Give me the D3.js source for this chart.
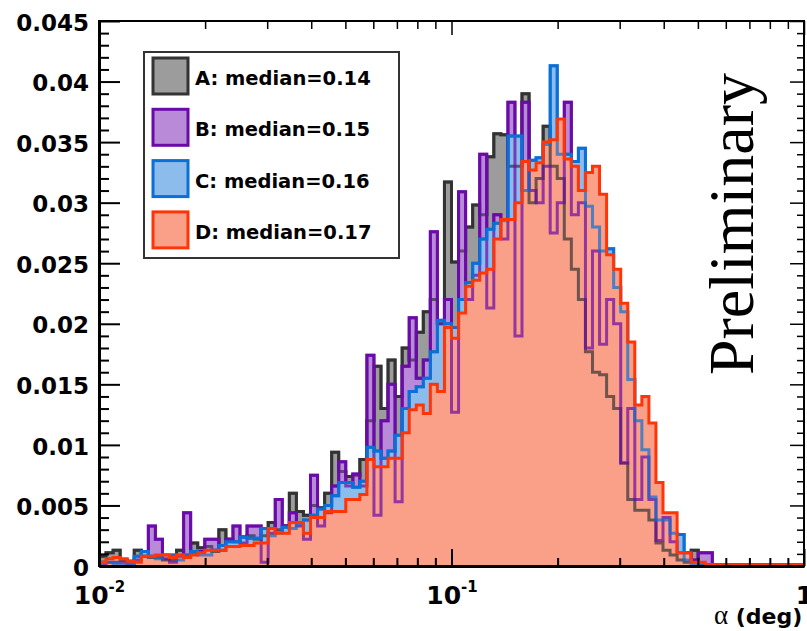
<!DOCTYPE html>
<html>
<head>
<meta charset="utf-8">
<script src="https://cdn.jsdelivr.net/npm/d3@7"></script>
<style>
  body { margin: 0; background: #fff; }
  svg { display: block; }
  .lab { font-family: "DejaVu Sans", sans-serif; font-weight: bold; fill: #000; }
</style>
</head>
<body>
<div id="chart"></div>
<script>
// histogram binning: 100 bins, uniform in log10(alpha) from 1e-2 to 1
const xMin = 0.01, xMax = 1, nBins = 100;

// bin contents (fraction per bin)
const seriesA = [
  0.0008,0.0011,0.0013,0.0005,0.0004,0.0013,0.0008,0.0007,0.0007,0.0005,
  0.0005,0.0013,0.0008,0.0019,0.0015,0.0016,0.0012,0.0030,0.0022,0.0020,
  0.0024,0.0025,0.0022,0.0025,0.0036,0.0030,0.0033,0.0060,0.0045,0.0042,
  0.0050,0.0048,0.0060,0.0094,0.0078,0.0074,0.0075,0.0088,0.0120,0.0165,
  0.0130,0.0170,0.0140,0.0180,0.0170,0.0193,0.0210,0.0220,0.0200,0.0317,
  0.0251,0.0260,0.0280,0.0298,0.0290,0.0338,0.0357,0.0356,0.0330,0.0330,
  0.0390,0.0300,0.0320,0.0363,0.0330,0.0320,0.0270,0.0245,0.0220,0.0177,
  0.0160,0.0158,0.0140,0.0130,0.0085,0.0055,0.0046,0.0046,0.0038,0.0019,
  0.0013,0.0009,0.0005,0.0003,0.0013,0.0001,0.0001,0.0001,0.0001,0.0001,
  0.0001,0.0001,0.0001,0.0001,0.0001,0.0001,0.0001,0.0001,0.0001,0.0001
];
const seriesB = [
  0.0001,0.0003,0.0003,0.0003,0.0001,0.0005,0.0008,0.0033,0.0022,0.0006,
  0.0003,0.0008,0.0044,0.0011,0.0012,0.0022,0.0022,0.0013,0.0022,0.0033,
  0.0019,0.0033,0.0033,0.0003,0.0027,0.0055,0.0033,0.0044,0.0033,0.0022,
  0.0075,0.0033,0.0044,0.0066,0.0086,0.0066,0.0076,0.0066,0.0174,0.0042,
  0.0120,0.0150,0.0053,0.0165,0.0205,0.0155,0.0170,0.0276,0.0200,0.0220,
  0.0127,0.0309,0.0220,0.0240,0.0340,0.0213,0.0290,0.0270,0.0383,0.0190,
  0.0383,0.0310,0.0300,0.0330,0.0275,0.0300,0.0383,0.0290,0.0300,0.0180,
  0.0260,0.0183,0.0220,0.0200,0.0085,0.0130,0.0055,0.0090,0.0055,0.0021,
  0.0040,0.0020,0.0011,0.0011,0.0005,0.0011,0.0011,0.0001,0.0001,0.0001,
  0.0001,0.0001,0.0001,0.0001,0.0001,0.0001,0.0001,0.0001,0.0001,0.0001
];
const seriesC = [
  0.0003,0.0003,0.0002,0.0001,0.0002,0.0008,0.0012,0.0008,0.0006,0.0009,
  0.0009,0.0005,0.0009,0.0012,0.0009,0.0009,0.0013,0.0017,0.0020,0.0020,
  0.0024,0.0023,0.0023,0.0031,0.0025,0.0027,0.0032,0.0031,0.0034,0.0038,
  0.0042,0.0047,0.0050,0.0058,0.0069,0.0069,0.0065,0.0070,0.0098,0.0095,
  0.0089,0.0095,0.0108,0.0130,0.0144,0.0148,0.0155,0.0177,0.0203,0.0200,
  0.0197,0.0220,0.0234,0.0250,0.0270,0.0278,0.0283,0.0285,0.0355,0.0355,
  0.0310,0.0335,0.0337,0.0348,0.0413,0.0340,0.0340,0.0334,0.0345,0.0297,
  0.0280,0.0260,0.0262,0.0230,0.0210,0.0154,0.0120,0.0096,0.0057,0.0038,
  0.0038,0.0027,0.0026,0.0005,0.0002,0.0001,0.0001,0.0001,0.0001,0.0001,
  0.0001,0.0001,0.0001,0.0001,0.0001,0.0001,0.0001,0.0001,0.0001,0.0001
];
const seriesD = [
  0.0003,0.0006,0.0007,0.0006,0.0004,0.0003,0.0008,0.0008,0.0009,0.0009,
  0.0007,0.0009,0.0007,0.0009,0.0011,0.0013,0.0013,0.0013,0.0016,0.0016,
  0.0017,0.0017,0.0019,0.0019,0.0031,0.0027,0.0027,0.0036,0.0036,0.0027,
  0.0040,0.0040,0.0045,0.0045,0.0045,0.0055,0.0055,0.0059,0.0088,0.0082,
  0.0082,0.0089,0.0089,0.0110,0.0129,0.0133,0.0126,0.0150,0.0144,0.0197,
  0.0188,0.0209,0.0231,0.0236,0.0242,0.0245,0.0270,0.0286,0.0286,0.0300,
  0.0334,0.0327,0.0333,0.0350,0.0352,0.0369,0.0336,0.0330,0.0310,0.0325,
  0.0330,0.0307,0.0257,0.0245,0.0217,0.0185,0.0133,0.0140,0.0118,0.0069,
  0.0044,0.0044,0.0011,0.0011,0.0003,0.0003,0.0001,0.0001,0.0001,0.0001,
  0.0001,0.0001,0.0001,0.0001,0.0001,0.0001,0.0001,0.0001,0.0001,0.0001
];

const seriesNames = ["A: median=0.14", "B: median=0.15", "C: median=0.16", "D: median=0.17"];
const lineColors = ["#333333", "#6a0aa8", "#0a6fd6", "#ff3508"];
// hatched fills look like these tints once blurred
const fillColors = ["#9c9c9c", "#b98ad8", "#8cbcec", "#fa9f88"];

const yMajor = [0, 0.005, 0.01, 0.015, 0.02, 0.025, 0.03, 0.035, 0.04, 0.045];
const yTickLabels = ["0", "0.005", "0.01", "0.015", "0.02", "0.025", "0.03", "0.035", "0.04", "0.045"];
const yMinorStep = 0.001;
const xMajor = [0.01, 0.1, 1];
const xTickBases = ["10", "10", "1"];
const xTickExps = ["-2", "-1", ""];

const W = 807, H = 631;
const plotL = 99, plotR = 804, plotT = 21, plotB = 566;

const svg = d3.select('#chart').append('svg')
  .attr('width', W).attr('height', H);

const x = d3.scaleLog().domain([xMin, xMax]).range([plotL, plotR]);
const y = d3.scaleLinear().domain([0, 0.045]).range([plotB, plotT]);

const defs = svg.append('defs');
defs.append('clipPath').attr('id', 'plotclip')
  .append('rect').attr('x', plotL).attr('y', plotT)
  .attr('width', plotR - plotL).attr('height', plotB - plotT);

// bin edges in data units
const lmin = Math.log10(xMin), lmax = Math.log10(xMax);
const edges = d3.range(nBins + 1).map(i => Math.pow(10, lmin + (lmax - lmin) * i / nBins));

const allSeries = [seriesA, seriesB, seriesC, seriesD];

const area = d3.area()
  .x(d => x(d[0])).y0(y(0)).y1(d => y(d[1]))
  .curve(d3.curveStepAfter);
const line = d3.line()
  .x(d => x(d[0])).y(d => y(d[1]))
  .curve(d3.curveStepAfter);

const stepPts = vals => {
  const pts = vals.map((v, i) => [edges[i], v]);
  pts.push([edges[nBins], vals[nBins - 1]]);
  return pts;
};
const areaPaths = allSeries.map(v => area(stepPts(v)));
const linePaths = allSeries.map(v => line([[edges[0], 0]].concat(stepPts(v), [[edges[nBins], 0]])));

// masks: an outline is only fully visible where no later histogram covers it
allSeries.forEach((v, k) => {
  const m = defs.append('mask').attr('id', 'mask' + k)
    .attr('maskUnits', 'userSpaceOnUse')
    .attr('x', 0).attr('y', 0).attr('width', W).attr('height', H);
  m.append('rect').attr('width', W).attr('height', H).attr('fill', '#fff');
  for (let j = k + 1; j < allSeries.length; j++) {
    m.append('path').attr('d', areaPaths[j]).attr('fill', '#000');
  }
});

const hists = svg.append('g').attr('clip-path', 'url(#plotclip)');

areaPaths.forEach((d, k) => {
  hists.append('path').attr('d', d).attr('fill', fillColors[k]);
});
// outlines seen through the later hatched fills
linePaths.slice(0, -1).forEach((d, k) => {
  hists.append('path').attr('d', d)
    .attr('fill', 'none').attr('stroke', lineColors[k])
    .attr('stroke-width', 3).attr('stroke-opacity', 0.7);
});
linePaths.forEach((d, k) => {
  hists.append('path').attr('d', d)
    .attr('fill', 'none').attr('stroke', lineColors[k])
    .attr('stroke-width', 3)
    .attr('mask', 'url(#mask' + k + ')');
});

// frame
svg.append('rect')
  .attr('x', plotL).attr('y', plotT)
  .attr('width', plotR - plotL).attr('height', plotB - plotT)
  .attr('fill', 'none').attr('stroke', '#000').attr('stroke-width', 2);

// y axis (left) with inward ticks
const yMinor = d3.range(0, 0.0451, yMinorStep).filter(v => Math.abs(Math.round(v / 0.005) * 0.005 - v) > 1e-6);
const yAxis = svg.append('g').attr('transform', `translate(${plotL},0)`)
  .call(d3.axisLeft(y).tickValues(yMajor).tickSize(-21).tickSizeOuter(0).tickPadding(10)
    .tickFormat((d, i) => yTickLabels[i]));
yAxis.select('.domain').attr('stroke-width', 3);
yAxis.selectAll('.tick line').attr('stroke-width', 2);
yAxis.selectAll('text').attr('class', 'lab').style('font-size', '23px').attr('dy', '0.4em');
svg.append('g').attr('transform', `translate(${plotL},0)`)
  .call(d3.axisLeft(y).tickValues(yMinor).tickSize(-10).tickSizeOuter(0).tickFormat(''))
  .call(g => g.select('.domain').remove())
  .selectAll('.tick line').attr('stroke-width', 2);

// y axis (right)
svg.append('g').attr('transform', `translate(${plotR},0)`)
  .call(d3.axisRight(y).tickValues(yMajor).tickSize(-14).tickSizeOuter(0).tickFormat(''))
  .call(g => g.select('.domain').remove())
  .selectAll('.tick line').attr('stroke-width', 1.5);
svg.append('g').attr('transform', `translate(${plotR},0)`)
  .call(d3.axisRight(y).tickValues(yMinor).tickSize(-7).tickSizeOuter(0).tickFormat(''))
  .call(g => g.select('.domain').remove())
  .selectAll('.tick line').attr('stroke-width', 1.5);

// x axis (bottom)
const xMinor = [];
xMajor.slice(0, -1).forEach(m => d3.range(2, 10).forEach(k => xMinor.push(m * k)));
const xAxis = svg.append('g').attr('transform', `translate(0,${plotB})`)
  .call(d3.axisBottom(x).tickValues(xMajor).tickSize(-17).tickSizeOuter(0).tickFormat(''));
xAxis.select('.domain').attr('stroke-width', 3);
xAxis.selectAll('.tick line').attr('stroke-width', 2);
xAxis.selectAll('.tick').each(function (d, i) {
  const t = d3.select(this).append('text')
    .attr('class', 'lab').attr('text-anchor', 'middle')
    .attr('y', 38).style('font-size', '25px');
  t.append('tspan').text(xTickBases[i]);
  if (xTickExps[i]) {
    t.append('tspan').attr('dy', -12).style('font-size', '15px').text(xTickExps[i]);
  }
});
svg.append('g').attr('transform', `translate(0,${plotB})`)
  .call(d3.axisBottom(x).tickValues(xMinor).tickSize(-8).tickSizeOuter(0).tickFormat(''))
  .call(g => g.select('.domain').remove())
  .selectAll('.tick line').attr('stroke-width', 2);

// x axis (top)
svg.append('g').attr('transform', `translate(0,${plotT})`)
  .call(d3.axisTop(x).tickValues(xMajor).tickSize(-14).tickSizeOuter(0).tickFormat(''))
  .call(g => g.select('.domain').remove())
  .selectAll('.tick line').attr('stroke-width', 1.5);
svg.append('g').attr('transform', `translate(0,${plotT})`)
  .call(d3.axisTop(x).tickValues(xMinor).tickSize(-8).tickSizeOuter(0).tickFormat(''))
  .call(g => g.select('.domain').remove())
  .selectAll('.tick line').attr('stroke-width', 1.5);

// axis title
const xt = svg.append('text').attr('x', 714).attr('y', 624).attr('class', 'lab');
xt.append('tspan').style('font-family', '"Liberation Serif", serif').style('font-weight', 'normal')
  .style('font-size', '27px').text('α');
xt.append('tspan').style('font-size', '22px').text(' (deg)');

// legend
const leg = svg.append('g');
leg.append('rect')
  .attr('x', 144).attr('y', 52).attr('width', 255).attr('height', 206)
  .attr('fill', '#fff').attr('stroke', '#333').attr('stroke-width', 2);
seriesNames.forEach((name, i) => {
  const ry = 58 + i * 51.3;
  leg.append('rect')
    .attr('x', 153).attr('y', ry).attr('width', 35).attr('height', 36)
    .attr('fill', fillColors[i])
    .attr('stroke', lineColors[i]).attr('stroke-width', 3);
  leg.append('text')
    .attr('class', 'lab').attr('x', 195).attr('y', ry + 27)
    .style('font-size', '19.5px').text(name);
});

// watermark
svg.append('text')
  .attr('transform', 'translate(753,224) rotate(-90)')
  .attr('text-anchor', 'middle')
  .style('font-family', '"Liberation Serif", "Times New Roman", serif')
  .style('font-size', '64px')
  .text('Preliminary');
</script>
</body>
</html>
